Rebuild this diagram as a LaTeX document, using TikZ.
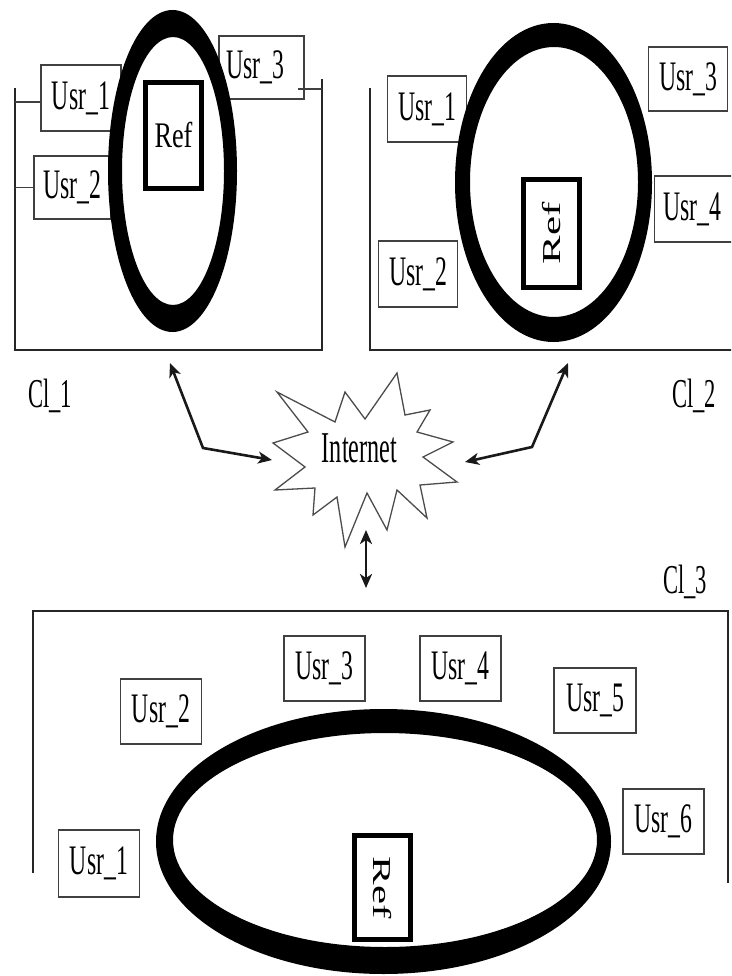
\documentclass[tikz,border=0pt]{standalone}
\usepackage{fontspec}
\usepackage{graphicx}
\setmainfont{Liberation Serif}
\usetikzlibrary{arrows.meta}
\newcommand{\sqz}[2]{\scalebox{#1}[1]{#2}}
\tikzset{
  frame/.style={draw=black!85, line width=2.4pt},
  usr/.style={draw=black!75, line width=1.6pt, fill=white, inner sep=0pt,
    minimum width=79pt, minimum height=66pt, font=\fontsize{42}{42}\selectfont},
  refbox/.style={draw=black, line width=5pt, fill=white, inner sep=0pt,
    minimum width=56pt},
  ring/.style={fill=black, even odd rule},
  lbl/.style={inner sep=0pt, font=\fontsize{41}{41}\selectfont},
  arr/.style={line width=2.6pt, black!90,
    {Stealth[length=14pt,width=12pt,inset=4pt]}-{Stealth[length=14pt,width=12pt,inset=4pt]}},
  thin/.style={draw=black!75, line width=1.4pt}
}
\begin{document}
\begin{tikzpicture}[x=1pt,y=-1pt]
\path[use as bounding box] (0,0) rectangle (731,976);
\fill[white] (0,0) rectangle (731,976);
\begin{scope}
\clip (0,0) rectangle (731,976);

% ---------------- Cl_1 ----------------
\coordinate (f1tl) at (15,88);
\draw[frame] (f1tl) -- (15,350) -- (322,350) -- (322,79);
\coordinate (f1tr) at (322,89);
\node[usr, minimum width=80pt] (u11) at (81,98) {\sqz{0.565}{Usr\_1}};
\node[usr, minimum width=77pt, minimum height=63pt] (u12) at (72.5,187.5) {\sqz{0.565}{Usr\_2}};
\node[usr, minimum width=85pt, minimum height=63pt] (u13) at (261.5,67.5) {\hspace*{-12pt}\sqz{0.565}{Usr\_3}};
\draw[thin] ([yshift=-4pt]u11.west) -- ([yshift=-4pt]u11.west -| f1tl);
\draw[thin] (u12.west) -- (u12.west -| f1tl);
\coordinate (u13s) at (298,89);
\draw[thin] (u13s) -- (f1tr);
\fill[ring] (172.5,171) ellipse [x radius=64.5, y radius=161]
            (173,171) ellipse [x radius=51, y radius=134];
\node[refbox, minimum height=106pt, font=\fontsize{36}{36}\selectfont] (r1) at (173.5,135.5) {\sqz{0.73}{Ref}};
\node[lbl, anchor=base west] (cl1) at (28,407) {\sqz{0.55}{Cl\_1}};

% ---------------- Cl_2 ----------------
\draw[frame] (370,88) -- (370,350) -- (740,350);
\node[usr] (u21) at (427,109) {\sqz{0.565}{Usr\_1}};
\node[usr] (u22) at (418,274) {\sqz{0.565}{Usr\_2}};
\node[usr, minimum height=64pt] (u23) at (688,79) {\sqz{0.565}{Usr\_3}};
\node[usr, minimum width=80pt] (u24) at (694.5,209) {\hspace*{-4pt}\sqz{0.565}{Usr\_4}};
\fill[ring] (553.5,182.5) ellipse [x radius=98.5, y radius=159.5]
            (554,182) ellipse [x radius=84, y radius=135];
\node[refbox, minimum height=108pt, font=\fontsize{43}{43}\selectfont] (r2) at (551.5,233.5) {\sqz{0.6}{\rotatebox{90}{Ref}}};
\node[lbl, anchor=base west] (cl2) at (672,407) {\sqz{0.55}{Cl\_2}};

% ---------------- Internet ----------------
\filldraw[draw=black!70, line width=1.3pt, fill=white]
  (277,392) -- (335,422) -- (345,392) -- (365,419) -- (397,373) -- (405,415)
  -- (430,410) -- (417,432) -- (453,442) -- (423,457) -- (457,482) -- (420,485)
  -- (427,518) -- (397,490) -- (387,530) -- (367,493) -- (345,547) -- (337,497)
  -- (313,515) -- (315,488) -- (275,490) -- (305,467) -- (273,443) -- (308,432) -- cycle;
\node[inner sep=0pt, font=\fontsize{44}{44}\selectfont] (inet) at (359.5,448) {\sqz{0.55}{Internet}};
\coordinate (a1) at (170,363);
\coordinate (b1) at (203,448);
\coordinate (s1) at (272,460);
\coordinate (a2) at (568,363);
\coordinate (b2) at (532,447);
\coordinate (s2) at (465,462);
\coordinate (s3) at (366,530);
\coordinate (c3) at (366,588);
\draw[arr] (a1) -- (b1) -- (s1);
\draw[arr] (a2) -- (b2) -- (s2);
\draw[arr] (s3) -- (c3);

% ---------------- Cl_3 ----------------
\draw[frame] (33,873) -- (33,611) -- (728,611) -- (728,883);
\node[usr, minimum width=81pt, minimum height=67pt] (u31) at (99,863.5) {\sqz{0.565}{Usr\_1}};
\node[usr, minimum width=81pt, minimum height=65pt] (u32) at (161,711.5) {\sqz{0.565}{Usr\_2}};
\node[usr, minimum width=81pt, minimum height=65pt] (u33) at (324.5,668.5) {\sqz{0.565}{Usr\_3}};
\node[usr, minimum width=81pt, minimum height=65pt] (u34) at (460.5,668.5) {\sqz{0.565}{Usr\_4}};
\node[usr, minimum width=82pt, minimum height=65pt] (u35) at (595,700.5) {\sqz{0.565}{Usr\_5}};
\node[usr, minimum width=81pt, minimum height=65pt] (u36) at (663.5,821.5) {\sqz{0.565}{Usr\_6}};
\fill[ring] (383.5,841.5) ellipse [x radius=227.5, y radius=132.5]
            (385,840) ellipse [x radius=212, y radius=107];
\node[refbox, minimum height=104pt, font=\fontsize{43}{43}\selectfont] (r3) at (382.5,887.5) {\sqz{0.6}{\rotatebox{-90}{Ref}}};
\node[lbl, anchor=base west] (cl3) at (663,593) {\sqz{0.55}{Cl\_3}};
\end{scope}
\end{tikzpicture}
\end{document}
